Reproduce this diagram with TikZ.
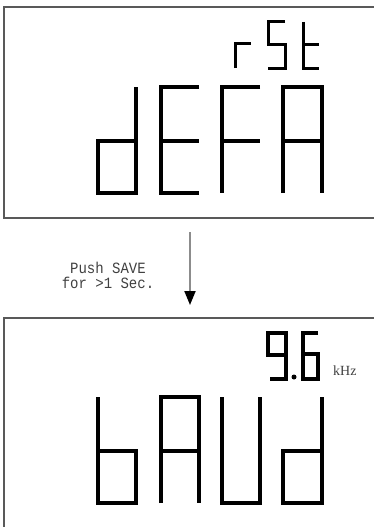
\documentclass[tikz,border=0pt]{standalone}
\usepackage{graphicx}
\usepackage{fontspec}
\setmainfont{Liberation Serif}
\newfontfamily\lcdfont{Liberation Mono}
\usetikzlibrary{arrows.meta}

\begin{document}
\begin{tikzpicture}[x=1pt,y=-1pt,
	seg/.style={line width=3.3pt},
	segsmall/.style={line width=3pt},
	frame/.style={line width=1.5pt,draw=black!65}]
	
	\useasboundingbox (0,0) rectangle (374,527);
	\clip (0,0) rectangle (374,527);
	
	%Anzeige oben
	\draw[frame] (4,7) rectangle (400,218);
	
	%rSt
	\draw[segsmall] (235,68) -- (235,44) -- (251,44);
	\draw[segsmall] (285,22) -- (268,22) -- (268,45) -- (285,45) -- (285,68) -- (268,68);
	\draw[segsmall] (303,22) -- (303,68) -- (319,68);
	\draw[segsmall] (303,45) -- (319,45);
	
	%dEFA
	\begin{scope}[shift={(98,87)}]
	\draw[seg] (38,0) -- ++ (0,106) -- ++ (-38,0) -- ++ (0,-52) -- ++ (38,0);
	\end{scope}
	
	\begin{scope}[shift={(161,87)}]
	\draw[seg] (38,0) -- ++ (-38,0) -- ++ (0,106) -- ++ (38,0);
	\draw[seg] (0,54) -- ++ (38,0);
	\end{scope}
	
	\begin{scope}[shift={(222,87)}]
	\draw[seg] (38,0) -- ++ (-38,0) -- ++ (0,106);
	\draw[seg] (0,54) -- ++ (38,0);
	\end{scope}
	
	\begin{scope}[shift={(283,87)}]
	\draw[seg] (0,106) -- ++ (0,-106) -- ++ (39,0) -- ++ (0,106);
	\draw[seg] (0,54) -- ++ (39,0);
	\end{scope}
	
	%Pfeil
	\coordinate (pushstart) at (190,232);
	\coordinate (pushend) at (190,305);
	\draw[line width=2pt,black!45,-{Triangle[length=14pt,width=11pt,color=black]}] (pushstart) -- (pushend);
	\node[font=\lcdfont\fontsize{14}{15}\selectfont,text=black!75,align=center] (hint) at (108,275)
	{\scalebox{1}[1.12]{Push SAVE}\\\scalebox{1}[1.12]{for >1 Sec.}};
	
	%Anzeige unten
	\draw[frame] (4,318) rectangle (400,560);
	
	%9.6 kHz
	\draw[line width=3.5pt] (286,355) -- (268,355) -- (268,333) -- (286,333) -- (286,379) -- (270,379);
	\fill (294,377) circle (2.5);
	\draw[line width=3.5pt] (318,333) -- (303,333) -- (303,379) -- (318,379) -- (318,354) -- (303,354);
	\node[font=\fontsize{14}{14}\selectfont,text=black!75,anchor=base west,inner sep=0pt] (unit) at (333,375) {kHz};
	
	%bAUd
	\begin{scope}[shift={(98,397)}]
	\draw[seg] (0,0) -- ++ (0,106) -- ++ (38,0) -- ++ (0,-52) -- ++ (-38,0);
	\end{scope}
	
	\begin{scope}[shift={(161,397)}]
	\draw[seg] (0,106) -- ++ (0,-106) -- ++ (38,0) -- ++ (0,106);
	\draw[seg] (0,54) -- ++ (38,0);
	\end{scope}
	
	\begin{scope}[shift={(222,397)}]
	\draw[seg] (0,0) -- ++ (0,106) -- ++ (38,0) -- ++ (0,-106);
	\end{scope}
	
	\begin{scope}[shift={(283,397)}]
	\draw[seg] (39,0) -- ++ (0,106) -- ++ (-39,0) -- ++ (0,-52) -- ++ (39,0);
	\end{scope}
	
\end{tikzpicture}
\end{document}
